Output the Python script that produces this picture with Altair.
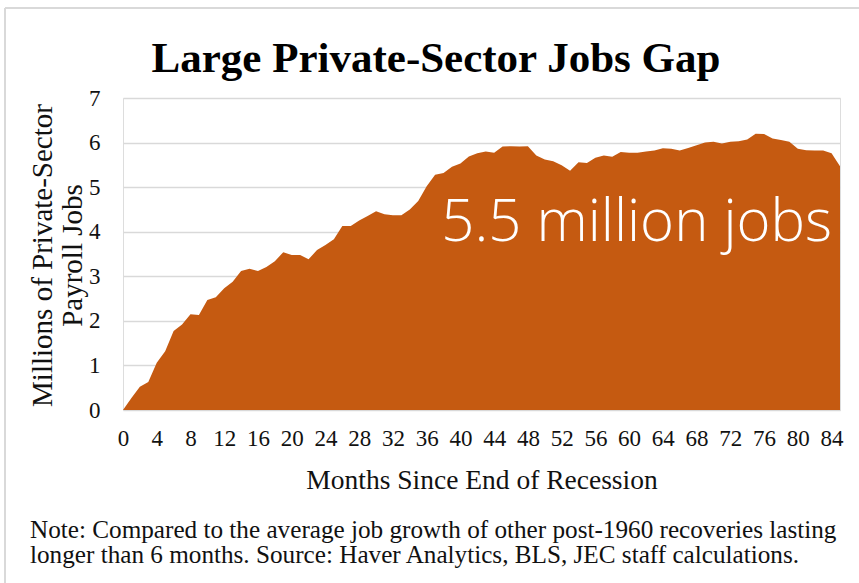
import altair as alt
import pandas as pd

months = list(range(0, 86))
jobs_gap = [
    0.00, 0.27, 0.52, 0.63, 1.06, 1.32, 1.77, 1.92, 2.15, 2.13,
    2.47, 2.53, 2.73, 2.88, 3.12, 3.17, 3.12, 3.21, 3.34, 3.54,
    3.48, 3.48, 3.38, 3.59, 3.70, 3.83, 4.13, 4.13, 4.25, 4.35,
    4.46, 4.39, 4.37, 4.37, 4.50, 4.69, 5.02, 5.28, 5.32, 5.46,
    5.53, 5.69, 5.76, 5.80, 5.77, 5.91, 5.92, 5.91, 5.92, 5.71,
    5.62, 5.58, 5.49, 5.37, 5.56, 5.54, 5.66, 5.71, 5.68, 5.79,
    5.77, 5.77, 5.80, 5.82, 5.87, 5.86, 5.82, 5.88, 5.94, 6.00,
    6.02, 5.98, 6.02, 6.03, 6.07, 6.20, 6.19, 6.09, 6.06, 6.02,
    5.86, 5.83, 5.82, 5.82, 5.76, 5.47,
]
x_ticks = list(range(0, 85, 4))
y_ticks = list(range(0, 8))

title_text = "Large Private-Sector Jobs Gap"
annotation_text = "5.5 million jobs"
annotation_month = [60.9]
annotation_value = [4.17]
note_text = ("Note: Compared to the average job growth of other post-1960 recoveries lasting\n"
             "longer than 6 months. Source: Haver Analytics, BLS, JEC staff calculations.")

SERIF = "Liberation Serif"
TXT = "#111111"
GRID = "#D9D9D9"
ORANGE = "#C55A11"

df = pd.DataFrame({"month": months, "gap": jobs_gap})

x_axis = alt.Axis(
    values=x_ticks, title="Months Since End of Recession", grid=False,
    domain=False, ticks=False, tickSize=0, labelPadding=17,
    labelFont=SERIF, labelFontSize=23, labelColor=TXT, labelFlush=False,
    labelOverlap=False, labelBound=False,
    titleFont=SERIF, titleFontSize=27.5, titleFontWeight="normal", titleColor=TXT,
    titleY=70, titleBaseline="middle",
)
y_axis = alt.Axis(
    values=y_ticks, title=["Millions of Private-Sector", "Payroll Jobs"],
    grid=True, gridColor=GRID, gridWidth=1.6, domain=False, ticks=False,
    tickSize=0, labelPadding=23, labelFont=SERIF, labelFontSize=23,
    labelColor=TXT, labelOverlap=False,
    titleFont=SERIF, titleFontSize=29, titleFontWeight="normal", titleColor=TXT,
    titleX=-81, titleY=157, titleAngle=-90, titleAlign="center",
    titleBaseline="middle", titleLineHeight=30,
)
x_scale = alt.Scale(domain=[0, 85], nice=False, zero=False)
y_scale = alt.Scale(domain=[0, 7], nice=False)

area = alt.Chart(df).mark_area(color=ORANGE, interpolate="linear", opacity=1).encode(
    x=alt.X("month:Q", scale=x_scale, axis=x_axis),
    y=alt.Y("gap:Q", scale=y_scale, axis=y_axis),
)

label_df = pd.DataFrame({"month": annotation_month, "gap": annotation_value,
                         "label": [annotation_text]})
label = alt.Chart(label_df).mark_text(
    font="Open Sans", fontWeight=300, fontSize=58, color="white",
    align="center", baseline="middle",
).encode(
    x=alt.X("month:Q", scale=x_scale, axis=x_axis),
    y=alt.Y("gap:Q", scale=y_scale, axis=y_axis),
    text="label:N",
)

title = alt.Chart(pd.DataFrame({"t": [title_text]})).mark_text(
    font=SERIF, fontSize=43, fontWeight="bold", color="#000000",
    align="center", baseline="alphabetic",
).encode(x=alt.value(313), y=alt.value(-26), text="t:N")

note = alt.Chart(pd.DataFrame({"t": [note_text]})).mark_text(
    font=SERIF, fontSize=25.2, color=TXT, align="left", baseline="alphabetic",
    lineBreak="\n", lineHeight=25,
).encode(x=alt.value(-93), y=alt.value(440), text="t:N")

frame_top = alt.Chart(pd.DataFrame({"a": [0]})).mark_rule(color=GRID, strokeWidth=2).encode(
    x=alt.value(-118), x2=alt.value(740), y=alt.value(-90)
)
frame_left = alt.Chart(pd.DataFrame({"a": [0]})).mark_rule(color=GRID, strokeWidth=2).encode(
    x=alt.value(-118), y=alt.value(-90), y2=alt.value(490)
)

chart = alt.layer(frame_top, frame_left, area, label, title, note).properties(
    width=717,
    height=312,
    autosize=alt.AutoSizeParams(type="none"),
    padding={"left": 123, "top": 98, "right": 19, "bottom": 173},
).configure_view(stroke=None).configure(background="white")

chart.save("out.html", embed_options={"renderer": "svg", "actions": False})
